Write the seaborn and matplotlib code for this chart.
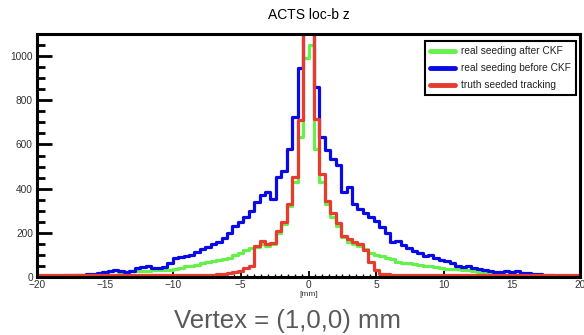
import numpy as np
import pandas as pd
import seaborn as sns
import matplotlib.pyplot as plt
from matplotlib.lines import Line2D
from matplotlib.ticker import MultipleLocator

# Local-b z residual histograms, 100 bins of 0.4 mm over [-20, 20] mm
z_min, z_max, n_bins = -20.0, 20.0, 100

# Bin contents, ordered from z = -20 mm to z = +20 mm
real_after_ckf = [
    6, 6, 6, 6, 6, 6, 6, 7, 7, 7, 7, 8, 8, 8, 9,
    12, 15, 25, 27, 28, 28, 30, 30, 32, 33, 35, 40, 48, 50, 55,
    65, 70, 73, 78, 82, 88, 100, 110, 122, 130, 135, 150, 140, 148, 200,
    240, 320, 430, 633, 990,
    1050, 580, 429, 330, 270, 230, 180, 160, 150, 140,
    125, 108, 100, 95, 88, 80, 70, 65, 62, 58,
    55, 52, 48, 45, 42, 38, 36, 35, 30, 30,
    25, 22, 18, 15, 12, 10, 8, 8, 7, 7,
    7, 6, 6, 6, 6, 6, 6, 6, 6, 6,
]
real_before_ckf = [
    5, 6, 5, 6, 6, 7, 7, 8,
    9, 12, 15, 18, 22, 28, 30, 25, 22, 28,
    42, 45, 48, 40, 42, 45, 62, 88, 92, 93,
    100, 115, 125, 138, 148, 160, 178, 200, 232, 250,
    270, 300, 340, 370, 385, 355, 451, 482, 580, 724,
    945, 1150,
    1160, 860, 633, 573, 535, 505, 383, 406, 330, 310,
    290, 270, 255, 225, 200, 160, 164, 145, 130, 118,
    110, 95, 100, 85, 75, 72, 65, 52, 45, 50,
    42, 35, 30, 28, 24, 22, 25, 22, 26, 20,
    18, 15, 12, 8, 7, 6, 6, 5, 6, 5,
]
truth_seeded = [
    8, 8, 8, 8, 8, 8, 8, 8, 8, 8, 8, 8, 8, 8, 8, 8,
    8, 8, 8, 8, 8, 8, 8, 8, 8, 8, 8, 8, 9, 9, 9, 9,
    10, 12, 14, 18, 22, 28, 40, 50, 141, 164, 150, 155, 209, 247, 330, 451,
    709, 1300,
    1300, 717, 467, 345, 290, 245, 186, 172, 160, 150,
    120, 70, 30, 14, 12, 10, 9, 9, 9, 9,
    8, 8, 8, 8, 8, 8, 8, 8, 8, 8,
    8, 8, 8, 8, 8, 8, 8, 8, 8, 8,
    8, 8, 8, 8, 8, 8, 8, 8, 8, 8,
]

labels = ["real seeding after CKF", "real seeding before CKF", "truth seeded tracking"]
colors = ["#66f04c", "#0a0ae6", "#e63b2e"]
series = [real_after_ckf, real_before_ckf, truth_seeded]

x_ticks = [-20, -15, -10, -5, 0, 5, 10, 15, 20]
y_ticks = [0, 200, 400, 600, 800, 1000]

bin_width = (z_max - z_min) / n_bins
centers = z_min + bin_width * (np.arange(n_bins) + 0.5)

sns.set_theme(style="white")
plt.rcParams["font.family"] = ["Liberation Sans", "DejaVu Sans"]

fig = plt.figure(figsize=(5.84, 3.35), dpi=100)
ax = fig.add_axes([37 / 584, 1 - 277 / 335, (580 - 37) / 584, (277 - 34) / 335])

for lab, vals, col in zip(labels, series, colors):
    df = pd.DataFrame({"z": centers, "count": vals})
    sns.histplot(data=df, x="z", weights="count", binwidth=bin_width,
                 binrange=(z_min, z_max), element="step", fill=False,
                 color=col, linewidth=2.3, ax=ax)

ax.set_xlim(z_min, z_max)
ax.set_ylim(0, 1100)
ax.set_xticks(x_ticks)
ax.set_yticks(y_ticks)
ax.xaxis.set_minor_locator(MultipleLocator(0.5))
ax.yaxis.set_minor_locator(MultipleLocator(50))

for sp in ax.spines.values():
    sp.set_visible(True)
    sp.set_color("black")
    sp.set_linewidth(2.2)

ax.tick_params(axis="y", which="major", direction="in", length=11, width=2,
               labelsize=7.3, labelcolor="#333333", color="black", pad=3,
               left=True, right=False)
ax.tick_params(axis="y", which="minor", direction="in", length=5.5, width=2,
               color="black", left=True, right=False)
ax.tick_params(axis="x", which="major", direction="in", length=4.5, width=1.3,
               labelsize=7.3, labelcolor="#333333", color="black", pad=2,
               bottom=True, top=False)
ax.tick_params(axis="x", which="minor", direction="in", length=2.2, width=1,
               color="black", bottom=True, top=False)

ax.set_ylabel("")
ax.set_xlabel("[mm]", fontsize=6, color="#333333", labelpad=1)

handles = [Line2D([], [], color=c, lw=3.5) for c in colors]
leg = ax.legend(handles, labels, loc="upper right",
                bbox_to_anchor=(576 / 584, 1 - 41 / 335),
                bbox_transform=fig.transFigure, borderaxespad=0,
                frameon=True, fancybox=False, edgecolor="black",
                framealpha=1, fontsize=7.3, handlelength=2.5,
                handletextpad=0.6, labelspacing=0.7, borderpad=0.5)
leg.get_frame().set_linewidth(1.5)
for t in leg.get_texts():
    t.set_color("#222222")

fig.text(309 / 584, 1 - 15 / 335, "ACTS loc-b z", ha="center", va="center",
         fontsize=10, color="black")
fig.text(288 / 584, 1 - 328 / 335, "Vertex = (1,0,0) mm", ha="center",
         va="baseline", fontsize=18.5, color="#595959")

fig.savefig("out.png", dpi=100, facecolor="white")
